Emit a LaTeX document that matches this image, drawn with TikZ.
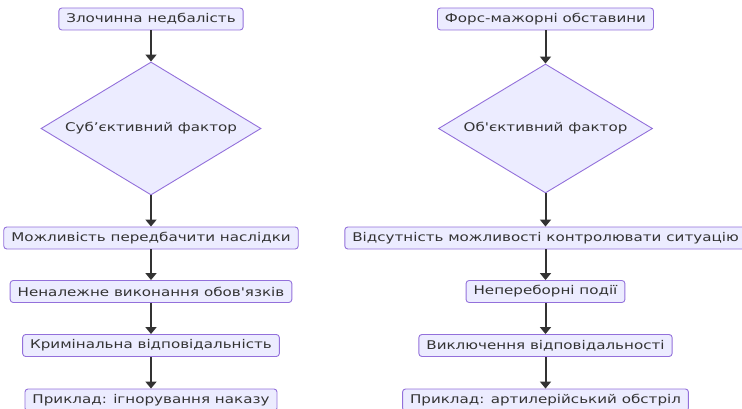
\documentclass[tikz,border=0pt]{standalone}
\usepackage{fontspec}
\newfontfamily\flowfont{DejaVu Sans}[FakeStretch=1.26]
\usetikzlibrary{shapes.geometric,arrows.meta}
\definecolor{boxfill}{HTML}{ECECFF}
\definecolor{boxline}{HTML}{9370DB}
\definecolor{arrowc}{HTML}{333333}
\begin{document}
\begin{tikzpicture}[x=1pt,y=-1pt,
	box/.style={draw=boxline,fill=boxfill,rounded corners=3pt,line width=0.9pt,
		minimum height=22pt,inner xsep=7.5pt,inner ysep=0pt,text=arrowc,
		font=\flowfont\fontsize{12}{14}\selectfont},
	dia/.style={diamond,draw=boxline,fill=boxfill,line width=0.9pt,inner sep=0pt,
		label={[text=arrowc,font=\flowfont\fontsize{12}{14}\selectfont]center:#1}},
	arr/.style={draw=arrowc,line width=2pt,-{Triangle[width=11pt,length=7pt]}}]
	\useasboundingbox (0,0) rectangle (742,409);

	%left column
	\node[box] (zl) at (151,19) {Злочинна недбалість};
	\node[dia=Суб’єктивний фактор,minimum width=220pt,minimum height=133pt] (sub) at (151,128.5) {};
	\node[box] (mozh) at (151,238) {Можливість передбачити наслідки};
	\node[box] (nenal) at (151,291.5) {Неналежне виконання обов'язків};
	\node[box] (krym) at (151,345.5) {Кримінальна відповідальність};
	\node[box] (pryk1) at (151,400) {Приклад: ігнорування наказу};

	%right column
	\node[box] (fors) at (545.5,19) {Форс-мажорні обставини};
	\node[dia=Об'єктивний фактор,minimum width=214pt,minimum height=129pt] (ob) at (545.5,128.5) {};
	\node[box] (vids) at (545.5,238) {Відсутність можливості контролювати ситуацію};
	\node[box] (nepe) at (545.5,291.5) {Непереборні події};
	\node[box] (vykl) at (545.5,345.5) {Виключення відповідальності};
	\node[box] (pryk2) at (545.5,400) {Приклад: артилерійський обстріл};

	%arrows
	\foreach \a/\b in {zl/sub,sub/mozh,mozh/nenal,nenal/krym,krym/pryk1,
		fors/ob,ob/vids,vids/nepe,nepe/vykl,vykl/pryk2}
	\draw[arr] (\a) -- (\b);
\end{tikzpicture}
\end{document}
